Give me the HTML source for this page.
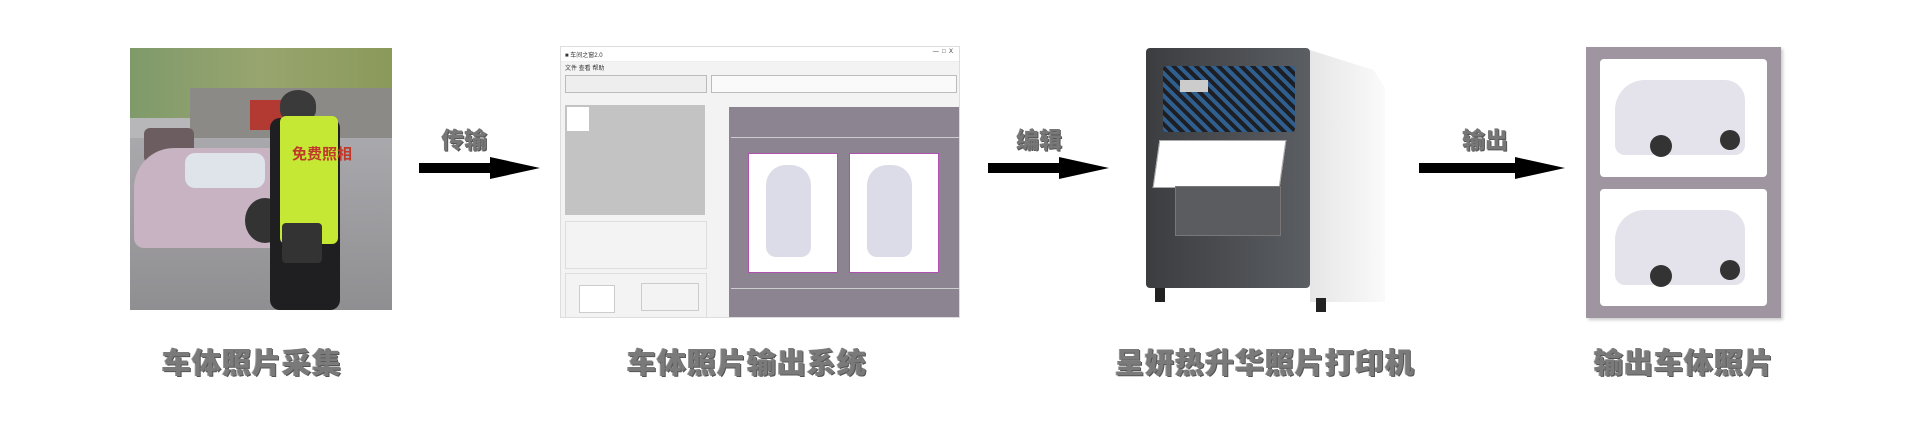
<!DOCTYPE html>
<html><head><meta charset="utf-8"><style>
body{margin:0;width:1920px;height:448px;background:#fff;position:relative;overflow:hidden;font-family:"Liberation Sans","Noto Sans CJK SC",sans-serif}
.a{position:absolute}
.lbl{position:absolute;top:340px;font-size:29px;font-weight:900;color:#7a7a7a;text-shadow:1px 1px 0 #555,-1px 0 0 #999;transform:translateX(-50%);white-space:nowrap;letter-spacing:1px}
.al{position:absolute;top:121px;font-size:23px;font-weight:900;color:#777;text-shadow:1px 1px 0 #555;white-space:nowrap}
.sh{position:absolute;height:10px;background:#000}
.hd{position:absolute;width:0;height:0;border-top:11px solid transparent;border-bottom:11px solid transparent;border-left:50px solid #000}
</style></head><body>
<!-- photo -->
<div class="a" style="left:130px;top:48px;width:262px;height:262px;overflow:hidden;background:#b7b6b9">
 <div class="a" style="left:0;top:0;width:262px;height:70px;background:linear-gradient(90deg,#7f9a6a,#98a56f,#8a9a5a)"></div>
 <div class="a" style="left:60px;top:40px;width:202px;height:50px;background:#8b8a86"></div>
 <div class="a" style="left:120px;top:52px;width:50px;height:30px;background:#b23a33"></div>
 <div class="a" style="left:0;top:90px;width:262px;height:172px;background:linear-gradient(#a9a8ac,#8f8e91)"></div>
 <div class="a" style="left:14px;top:80px;width:50px;height:35px;background:#6b5d60;border-radius:6px"></div>
 <div class="a" style="left:4px;top:100px;width:165px;height:100px;background:#c7b3c2;border-radius:40px 30px 10px 10px"></div>
 <div class="a" style="left:55px;top:105px;width:80px;height:35px;background:#dfe3ea;border-radius:10px"></div>
 <div class="a" style="left:115px;top:150px;width:40px;height:45px;background:#333;border-radius:50%"></div>
 <div class="a" style="left:150px;top:42px;width:36px;height:30px;background:#3a3a3a;border-radius:50% 50% 10px 10px"></div>
 <div class="a" style="left:140px;top:70px;width:70px;height:192px;background:#1f1f22;border-radius:10px"></div>
 <div class="a" style="left:150px;top:68px;width:58px;height:128px;background:#c4e833;border-radius:6px"></div>
 <div class="a" style="left:162px;top:95px;font-size:15px;color:#c0392b;font-weight:bold">免费照相</div>
 <div class="a" style="left:152px;top:175px;width:40px;height:40px;background:#333;border-radius:4px"></div>
</div>
<!-- arrow1 -->
<div class="al" style="left:441px">传输</div>
<div class="sh" style="left:419px;top:163px;width:75px"></div><div class="hd" style="left:490px;top:157px"></div>
<!-- software -->
<div class="a" style="left:560px;top:46px;width:398px;height:270px;background:#f3f3f3;border:1px solid #ddd;overflow:hidden;font-size:6px;color:#333">
 <div class="a" style="left:0;top:0;width:398px;height:14px;background:#fff;border-bottom:1px solid #eee"></div>
 <div class="a" style="left:4px;top:3px">■ 车间之窗2.0</div>
 <div class="a" style="right:6px;top:2px">—&nbsp;&nbsp;□&nbsp;&nbsp;X</div>
 <div class="a" style="left:4px;top:16px">文件 查看 帮助</div>
 <div class="a" style="left:4px;top:28px;width:140px;height:16px;border:1px solid #bbb;background:#eee"></div>
 <div class="a" style="left:150px;top:28px;width:244px;height:16px;border:1px solid #bbb;background:#fafafa"></div>
 <div class="a" style="left:4px;top:58px;width:140px;height:110px;background:#c3c3c3"></div>
 <div class="a" style="left:6px;top:60px;width:22px;height:24px;background:#fff"></div>
 <div class="a" style="left:4px;top:174px;width:140px;height:46px;border:1px solid #ddd"></div>
 <div class="a" style="left:4px;top:226px;width:140px;height:44px;border:1px solid #ddd"></div>
 <div class="a" style="left:18px;top:238px;width:34px;height:26px;background:#fff;border:1px solid #ccc"></div>
 <div class="a" style="left:80px;top:236px;width:56px;height:26px;border:1px solid #ccc"></div>
 <div class="a" style="left:168px;top:60px;width:230px;height:210px;background:#8c8491"></div>
 <div class="a" style="left:170px;top:90px;width:228px;height:150px;background:#8c8491;border-top:1px solid #ccc;border-bottom:1px solid #ccc"></div>
 <div class="a" style="left:187px;top:106px;width:88px;height:118px;background:#fff;border:1px solid #b050b0"></div>
 <div class="a" style="left:288px;top:106px;width:88px;height:118px;background:#fff;border:1px solid #b050b0"></div>
 <div class="a" style="left:205px;top:118px;width:45px;height:92px;background:#dcdce8;border-radius:20px 20px 10px 10px"></div>
 <div class="a" style="left:306px;top:118px;width:45px;height:92px;background:#dcdce8;border-radius:20px 20px 10px 10px"></div>
</div>
<!-- arrow2 -->
<div class="al" style="left:1016px">编辑</div>
<div class="sh" style="left:988px;top:163px;width:75px"></div><div class="hd" style="left:1059px;top:157px"></div>
<!-- printer -->
<div class="a" style="left:1146px;top:48px;width:164px;height:240px;background:linear-gradient(90deg,#3b3d40,#5b5e62);border-radius:4px"></div>
<div class="a" style="left:1310px;top:50px;width:75px;height:252px;background:linear-gradient(90deg,#e6e6e6,#fafafa);clip-path:polygon(0 0,85% 8%,100% 15%,100% 100%,0 100%)"></div>
<div class="a" style="left:1163px;top:66px;width:132px;height:66px;background:repeating-linear-gradient(45deg,#2f5f8f 0 4px,#1d1f24 4px 8px);border-radius:3px"></div>
<div class="a" style="left:1180px;top:80px;width:28px;height:12px;background:#ccc"></div>
<div class="a" style="left:1156px;top:140px;width:125px;height:46px;background:#fff;transform:skewX(-8deg);border:1px solid #aaa"></div>
<div class="a" style="left:1175px;top:186px;width:104px;height:48px;background:#5a5c5f;border:1px solid #777"></div>
<div class="a" style="left:1155px;top:288px;width:10px;height:14px;background:#222"></div>
<div class="a" style="left:1316px;top:298px;width:10px;height:14px;background:#222"></div>
<!-- arrow3 -->
<div class="al" style="left:1462px">输出</div>
<div class="sh" style="left:1419px;top:163px;width:100px"></div><div class="hd" style="left:1515px;top:157px"></div>
<!-- output -->
<div class="a" style="left:1586px;top:47px;width:195px;height:271px;background:#9f95a1;box-shadow:2px 2px 3px #ccc"></div>
<div class="a" style="left:1600px;top:59px;width:167px;height:118px;background:#fff;border-radius:4px"></div>
<div class="a" style="left:1600px;top:189px;width:167px;height:117px;background:#fff;border-radius:4px"></div>
<div class="a" style="left:1615px;top:80px;width:130px;height:75px;background:#e4e2ea;border-radius:30px 20px 10px 10px"></div>
<div class="a" style="left:1615px;top:210px;width:130px;height:75px;background:#e4e2ea;border-radius:30px 20px 10px 10px"></div>
<div class="a" style="left:1650px;top:135px;width:22px;height:22px;background:#333;border-radius:50%"></div>
<div class="a" style="left:1720px;top:130px;width:20px;height:20px;background:#333;border-radius:50%"></div>
<div class="a" style="left:1650px;top:265px;width:22px;height:22px;background:#333;border-radius:50%"></div>
<div class="a" style="left:1720px;top:260px;width:20px;height:20px;background:#333;border-radius:50%"></div>
<!-- labels -->
<div class="lbl" style="left:252px">车体照片采集</div>
<div class="lbl" style="left:747px">车体照片输出系统</div>
<div class="lbl" style="left:1265px">呈妍热升华照片打印机</div>
<div class="lbl" style="left:1684px">输出车体照片</div>
</body></html>
